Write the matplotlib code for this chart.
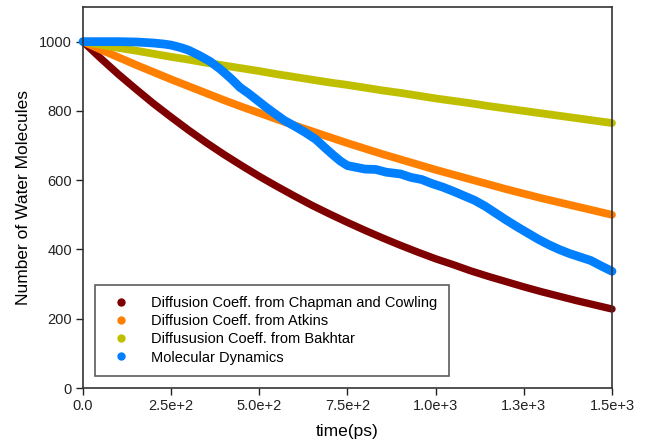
import matplotlib
matplotlib.use("Agg")
import matplotlib.pyplot as plt
from matplotlib.lines import Line2D

plt.rcParams['font.family'] = ['Liberation Sans', 'DejaVu Sans']

# ---- data ----
t_model = [0, 50, 100, 150, 200, 250, 300, 350, 400, 450, 500, 550, 600, 650, 700,
           750, 800, 850, 900, 950, 1000, 1050, 1100, 1150, 1200, 1250, 1300, 1350,
           1400, 1450, 1500]
chapman = [1000, 952, 906, 863, 821, 782, 744, 708, 674, 642, 611, 582, 554, 527, 502,
           478, 455, 433, 412, 392, 373, 356, 338, 322, 307, 292, 278, 265, 252, 240, 228]
atkins = [1000, 977, 955, 933, 912, 891, 871, 851, 831, 812, 794, 776, 758, 741, 724,
          707, 691, 675, 660, 645, 630, 616, 602, 588, 574, 561, 548, 536, 524, 512, 500]
bakhtar = [1000, 991, 982, 974, 965, 956, 948, 939, 931, 923, 915, 906, 898, 890, 882,
           875, 867, 859, 852, 844, 836, 829, 822, 814, 807, 800, 793, 786, 779, 772, 765]

t_md = [0, 50, 100, 150, 200, 230, 250, 280, 300, 330, 360, 390, 420, 445, 470, 500,
        520, 540, 570, 600, 630, 660, 690, 710, 730, 750, 780, 800, 830, 860, 900, 930,
        960, 990, 1020, 1050, 1080, 1110, 1140, 1170, 1200, 1230, 1260, 1290, 1320,
        1350, 1380, 1410, 1440, 1470, 1500]
md = [1000, 1000, 1000, 999, 996, 993, 990, 982, 975, 960, 943, 920, 893, 868, 850, 826,
      810, 795, 773, 756, 738, 718, 690, 672, 655, 642, 636, 632, 631, 623, 618, 608,
      602, 590, 580, 568, 555, 542, 525, 505, 485, 466, 448, 430, 414, 400, 388, 378,
      368, 352, 337]

labels = ["Diffusion Coeff. from Chapman and Cowling",
          "Diffusion Coeff. from Atkins",
          "Diffususion Coeff. from Bakhtar",
          "Molecular Dynamics"]
colors = ["#7F0000", "#FF8000", "#BFBF00", "#0080FF"]

xticks = [0, 250, 500, 750, 1000, 1250, 1500]
xticklabels = ["0.0", "2.5e+2", "5.0e+2", "7.5e+2", "1.0e+3", "1.3e+3", "1.5e+3"]
yticks = [0, 200, 400, 600, 800, 1000]

# ---- figure ----
fig = plt.figure(figsize=(6.46, 4.44), dpi=100)
ax = fig.add_axes([83/646, 1-388/444, 529/646, 381/444])

series = [(t_model, chapman), (t_model, atkins), (t_model, bakhtar), (t_md, md)]
widths = [5.3, 5.6, 5.6, 6.3]
for (xs, ys), c, w in zip(series, colors, widths):
    ax.plot(xs, ys, color=c, lw=w, solid_capstyle='round', solid_joinstyle='round',
            clip_on=False)

ax.set_xlim(0, 1500)
ax.set_ylim(0, 1100)
ax.set_xticks(xticks)
ax.set_xticklabels(xticklabels)
ax.set_yticks(yticks)
ax.tick_params(axis='both', direction='out', length=5, width=1, labelsize=10.5,
               colors='#222222', pad=3)
ax.tick_params(top=False, right=False)
for s in ax.spines.values():
    s.set_color('#333333')
    s.set_linewidth(1.2)

ax.set_xlabel("time(ps)", fontsize=12.5, labelpad=8)
ax.set_ylabel("Number of Water Molecules", fontsize=12.5, labelpad=6)

handles = [Line2D([], [], ls='none', marker='o', markersize=6, color=c,
                  markeredgewidth=0) for c in colors]
leg = ax.legend(handles, labels, loc='lower left', bbox_to_anchor=(0.023, 0.031),
                fontsize=10.5, frameon=True, fancybox=False, edgecolor='#333333',
                borderpad=0.8, labelspacing=0.28, handletextpad=1.0,
                borderaxespad=0, handlelength=2.0)
leg.get_frame().set_linewidth(1.2)

fig.savefig("out.png", dpi=100, facecolor='white')
